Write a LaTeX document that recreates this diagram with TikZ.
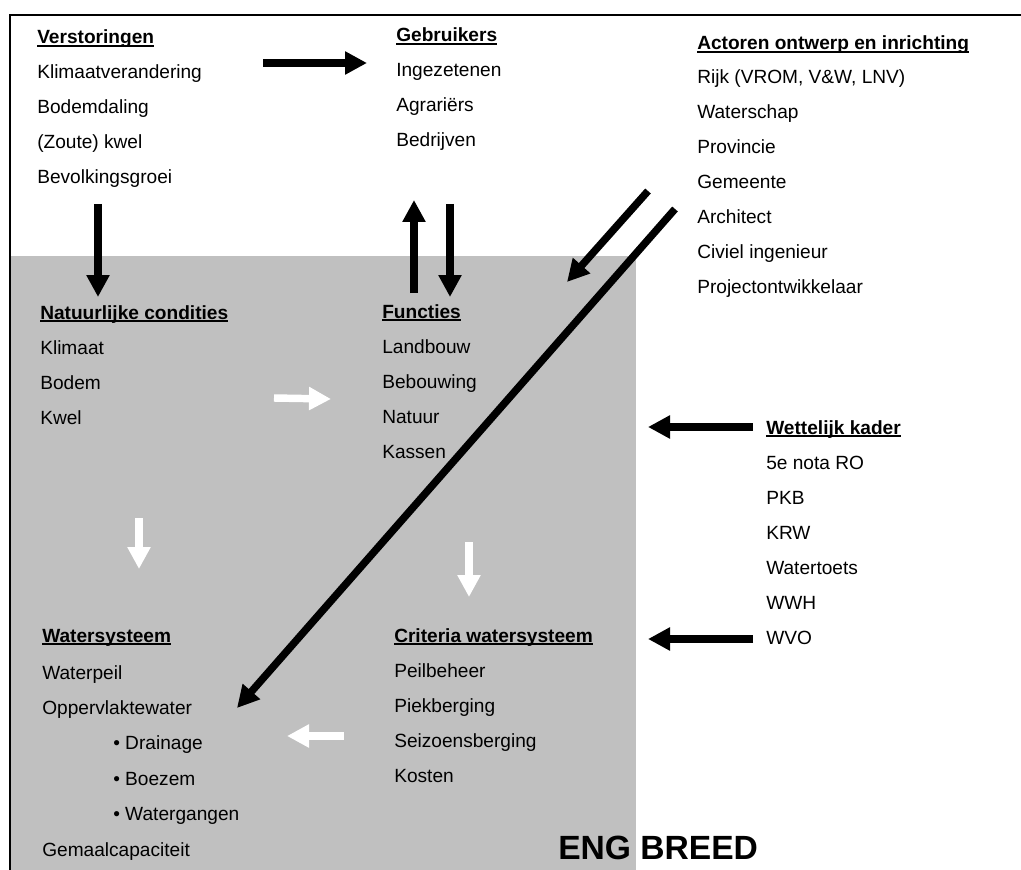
\documentclass[tikz,border=0pt]{standalone}
\usepackage{fontspec}
\setmainfont{Liberation Sans}
\usetikzlibrary{arrows.meta}
\definecolor{panelgray}{RGB}{192,192,192}
% heading text with a rule just under the baseline
\newcommand\hdr[1]{\setbox0\hbox{#1}\rlap{\rule[-2pt]{\wd0}{1pt}}\box0}
\tikzset{
  item/.style={anchor=base west, inner sep=0pt, font=\fontsize{14.33}{17}\selectfont},
  head/.style={anchor=base west, inner sep=0pt, font=\fontsize{14.33}{17}\selectfont\bfseries},
  arr/.style={line width=5.6pt, -{Triangle[length=16.5pt,width=16.5pt]}},
  blackarr/.style={arr, draw=black},
  whitearr/.style={arr, draw=white},
}
\begin{document}
\begin{tikzpicture}[x=0.75pt, y=-0.75pt]
\useasboundingbox (0,0) rectangle (1021,870);
% grey panel and frame
\fill[panelgray] (10,256) rectangle (636,870);
\draw[line width=1.5pt] (10,875) -- (10,15) -- (1025,15);

% Verstoringen
\node[head] (verst) at (37,44) {\hdr{Verstoringen}};
\foreach \t [count=\i] in {Klimaatverandering, Bodemdaling, (Zoute) kwel, Bevolkingsgroei}
  \node[item] (verst\i) at (37,44+35*\i) {\t};

% Gebruikers
\node[head] (gebr) at (396,42) {\hdr{Gebruikers}};
\foreach \t [count=\i] in {Ingezetenen, Agrariërs, Bedrijven}
  \node[item] (gebr\i) at (396,42+34.7*\i) {\t};

% Actoren
\node[head] (act) at (697,50) {\hdr{Actoren ontwerp en inrichting}};
\foreach \t [count=\i] in {{Rijk (VROM, V\&W, LNV)}, Waterschap, Provincie, Gemeente, Architect, Civiel ingenieur, Projectontwikkelaar}
  \node[item] (act\i) at (697,49+34.9*\i) {\t};

% Natuurlijke condities
\node[head] (nat) at (40,319) {\hdr{Natuurlijke condities}};
\foreach \t [count=\i] in {Klimaat, Bodem, Kwel}
  \node[item] (nat\i) at (40,319+35*\i) {\t};

% Functies
\node[head] (fun) at (382,318) {\hdr{Functies}};
\foreach \t [count=\i] in {Landbouw, Bebouwing, Natuur, Kassen}
  \node[item] (fun\i) at (382,318+35.2*\i) {\t};

% Wettelijk kader
\node[head] (wet) at (766,434) {\hdr{Wettelijk kader}};
\foreach \t [count=\i] in {5e nota RO, PKB, KRW, Watertoets, WWH, WVO}
  \node[item] (wet\i) at (766,434+35*\i) {\t};

% Watersysteem
\node[head] (ws) at (42,642) {\hdr{Watersysteem}};
\node[item] (ws1) at (42,679) {Waterpeil};
\node[item] (ws2) at (42,714) {Oppervlaktewater};
\node[item] (ws3) at (113,749) {• Drainage};
\node[item] (ws4) at (113,785) {• Boezem};
\node[item] (ws5) at (113,820) {• Watergangen};
\node[item] (ws6) at (42,856) {Gemaalcapaciteit};

% Criteria watersysteem
\node[head] (crit) at (394,642) {\hdr{Criteria watersysteem}};
\foreach \t [count=\i] in {Peilbeheer, Piekberging, Seizoensberging, Kosten}
  \node[item] (crit\i) at (394,642+35.2*\i) {\t};

% caption
\node[anchor=base west, inner sep=0pt, font=\fontsize{25.2}{30}\selectfont\bfseries] (eng) at (558,859) {ENG BREED};

% arrow end points
\coordinate (aS) at (263,63);  \coordinate (aE) at (367,63);
\coordinate (bS) at (98,204);  \coordinate (bE) at (98,297);
\coordinate (cS) at (414,293); \coordinate (cE) at (414,200);
\coordinate (dS) at (450,204); \coordinate (dE) at (450,297);
\coordinate (eS) at (648,191); \coordinate (eE) at (567,282);
\coordinate (fS) at (675,209); \coordinate (fE) at (237,708);
\coordinate (gS) at (753,427); \coordinate (gE) at (648,427);
\coordinate (hS) at (753,639); \coordinate (hE) at (648,639);
\coordinate (iS) at (274,398); \coordinate (iE) at (331,399);
\coordinate (jS) at (139,518); \coordinate (jE) at (139,569);
\coordinate (kS) at (469,542); \coordinate (kE) at (469,597);
\coordinate (lS) at (344,736); \coordinate (lE) at (287,736);

% black arrows
\foreach \a in {a,b,c,d,e,f,g,h}
  \draw[blackarr] (\a S) -- (\a E);
% white arrows on the grey panel
\foreach \a in {i,j,k,l}
  \draw[whitearr] (\a S) -- (\a E);
\end{tikzpicture}
\end{document}
